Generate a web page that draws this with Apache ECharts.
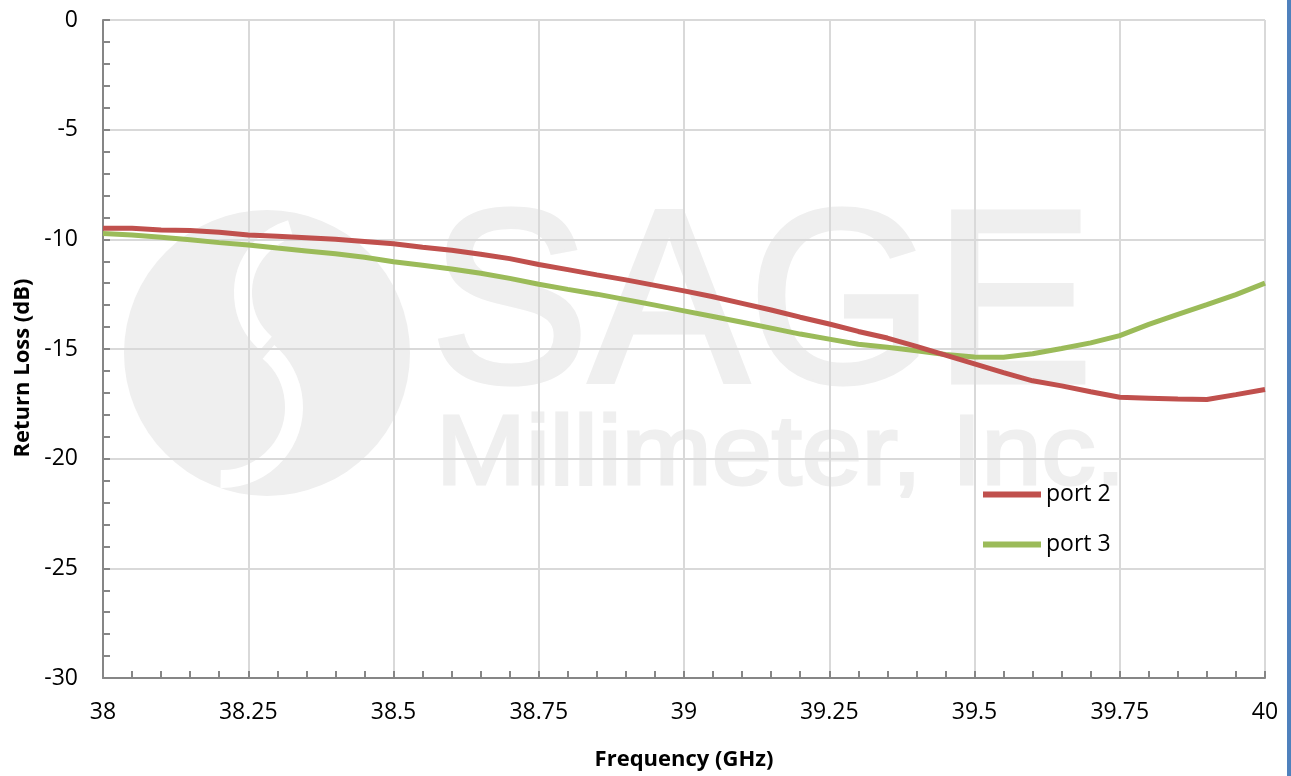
<!DOCTYPE html>
<html>
<head>
<meta charset="utf-8">
<script src="https://cdn.jsdelivr.net/npm/echarts@6/dist/echarts.min.js"></script>
<style>
html,body{margin:0;padding:0;background:#fff;}
#chart{width:1291px;height:776px;}
</style>
</head>
<body>
<div id="chart"></div>
<script>
var freqs = [38.00,38.05,38.10,38.15,38.20,38.25,38.30,38.35,38.40,38.45,38.50,38.55,38.60,38.65,38.70,38.75,38.80,38.85,38.90,38.95,39.00,39.05,39.10,39.15,39.20,39.25,39.30,39.35,39.40,39.45,39.50,39.55,39.60,39.65,39.70,39.75,39.80,39.85,39.90,39.95,40.00];
var port2 = [-9.50,-9.50,-9.57,-9.60,-9.68,-9.80,-9.86,-9.93,-10.00,-10.10,-10.20,-10.36,-10.50,-10.68,-10.88,-11.15,-11.38,-11.62,-11.85,-12.10,-12.35,-12.62,-12.92,-13.22,-13.55,-13.86,-14.20,-14.50,-14.88,-15.28,-15.68,-16.08,-16.45,-16.68,-16.95,-17.20,-17.24,-17.28,-17.30,-17.08,-16.85];
var port3 = [-9.73,-9.80,-9.90,-10.02,-10.15,-10.26,-10.40,-10.53,-10.66,-10.82,-11.02,-11.18,-11.35,-11.55,-11.78,-12.05,-12.28,-12.50,-12.75,-13.00,-13.26,-13.52,-13.78,-14.05,-14.32,-14.55,-14.78,-14.92,-15.08,-15.25,-15.36,-15.38,-15.22,-14.98,-14.72,-14.39,-13.88,-13.42,-12.98,-12.52,-12.00];
var seriesNames = ['port 2','port 3'];
var xAxisTitle = 'Frequency (GHz)';
var yAxisTitle = 'Return Loss (dB)';

function pairs(vals){ return freqs.map(function(f,i){ return [f, vals[i]]; }); }

var chart = echarts.init(document.getElementById('chart'), null, {renderer:'canvas'});
var font = '"Open Sans", "Liberation Sans", sans-serif';
var wm = '#efefef';
chart.setOption({
  backgroundColor:'#ffffff',
  animation:false,
  grid:{left:103, right:26, top:20, bottom:96, containLabel:false},
  graphic:[
    {type:'circle', z:-10, silent:true, shape:{cx:267, cy:353, r:143}, style:{fill:wm}},
    {type:'arc', z:-9, silent:true, shape:{cx:310, cy:293, r:67, startAngle:2.29, endAngle:4.42, clockwise:true}, style:{stroke:'#ffffff', lineWidth:18, fill:null}},
    {type:'arc', z:-9, silent:true, shape:{cx:222, cy:407, r:72, startAngle:-0.87, endAngle:1.59, clockwise:true}, style:{stroke:'#ffffff', lineWidth:18, fill:null}},
    {type:'text', z:-9, silent:true, x:430, y:314, scaleX:0.97, style:{text:'SAGE', fontSize:246, fontFamily:'"Liberation Sans", Arial, sans-serif', fill:wm, stroke:wm, lineWidth:5, verticalAlign:'middle', align:'left'}},
    {type:'text', z:-9, silent:true, x:436, y:457, scaleX:1.09, style:{text:'Millimeter, Inc.', fontSize:99, fontFamily:'"Liberation Sans", Arial, sans-serif', fill:wm, stroke:wm, lineWidth:3, verticalAlign:'middle', align:'left'}},
    {type:'rect', z:10, silent:true, shape:{x:1287, y:0, width:4, height:776}, style:{fill:'#4f81bd'}}
  ],
  legend:{
    orient:'vertical', left:978, top:478, itemWidth:58, itemHeight:6, itemGap:27,
    icon:'rect',
    textStyle:{fontFamily:font, fontSize:23, color:'#000'},
    data:seriesNames
  },
  xAxis:{
    type:'value', min:38, max:40, interval:0.25,
    name:xAxisTitle, nameLocation:'middle', nameGap:71,
    nameTextStyle:{fontFamily:font, fontSize:22, fontWeight:'bold', color:'#000'},
    axisLine:{show:true, onZero:false, lineStyle:{color:'#868686', width:2}},
    axisTick:{show:true, inside:true, length:7, lineStyle:{color:'#868686', width:2}},
    minorTick:{show:true, splitNumber:5, length:7, lineStyle:{color:'#868686', width:2}},
    axisLabel:{fontFamily:font, fontSize:23, color:'#000', margin:23},
    splitLine:{show:true, lineStyle:{color:'#d9d9d9', width:2}}
  },
  yAxis:{
    type:'value', min:-30, max:0, interval:5,
    name:yAxisTitle, nameLocation:'middle', nameGap:68, nameRotate:90,
    nameTextStyle:{fontFamily:font, fontSize:22, fontWeight:'bold', color:'#000', padding:[0,38,0,0]},
    axisLine:{show:true, onZero:false, lineStyle:{color:'#868686', width:2}},
    axisTick:{show:true, inside:true, length:7, lineStyle:{color:'#868686', width:2}},
    minorTick:{show:true, splitNumber:5, length:7, lineStyle:{color:'#868686', width:2}},
    axisLabel:{fontFamily:font, fontSize:23, color:'#000', margin:25},
    splitLine:{show:true, lineStyle:{color:'#d9d9d9', width:2}}
  },
  series:[
    {name:seriesNames[0], type:'line', data:pairs(port2), symbol:'none', showSymbol:false, color:'#c0504d', lineStyle:{color:'#c0504d', width:5}, z:3},
    {name:seriesNames[1], type:'line', data:pairs(port3), symbol:'none', showSymbol:false, color:'#9bbb59', lineStyle:{color:'#9bbb59', width:5}, z:2}
  ]
});
</script>
</body>
</html>
